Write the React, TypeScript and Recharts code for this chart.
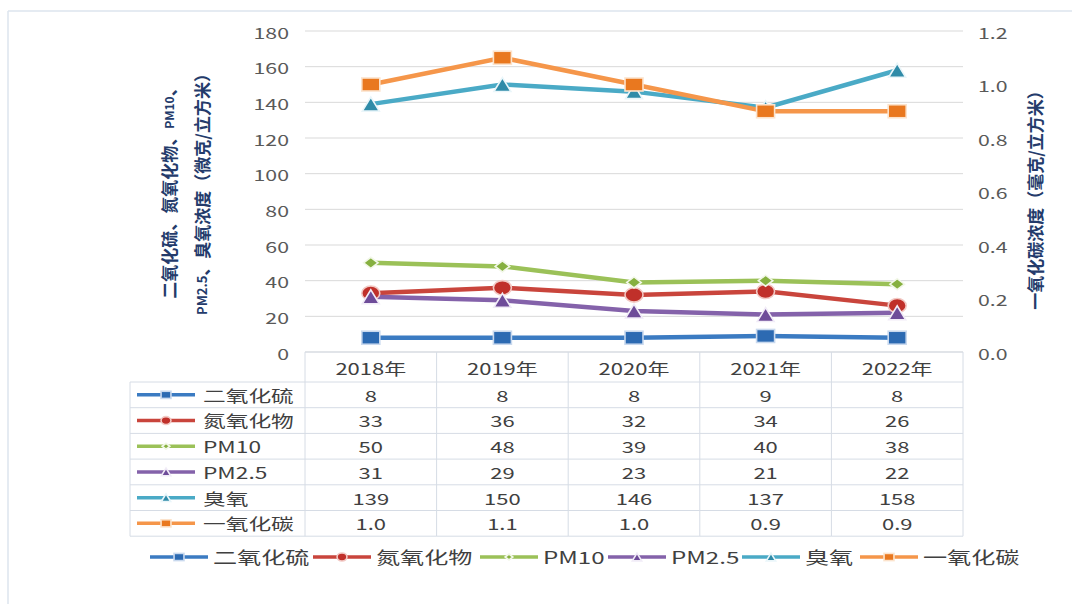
import React from 'react';
import { LineChart, Line, XAxis, YAxis, CartesianGrid, Customized } from 'recharts';

const years = ['2018年', '2019年', '2020年', '2021年', '2022年'];
const so2 = [8, 8, 8, 9, 8];
const nox = [33, 36, 32, 34, 26];
const pm10 = [50, 48, 39, 40, 38];
const pm25 = [31, 29, 23, 21, 22];
const o3 = [139, 150, 146, 137, 158];
const co = [1.0, 1.1, 1.0, 0.9, 0.9];
const leftTicks = [0, 20, 40, 60, 80, 100, 120, 140, 160, 180];
const rightTicks = [0, 0.2, 0.4, 0.6, 0.8, 1.0, 1.2];

type Shape = 'square' | 'circle' | 'diamond' | 'triangle';
interface Series {
  key: string;
  name: string;
  values: number[];
  color: string;
  fill: string;
  edge: string;
  shape: Shape;
  axis: 'left' | 'right';
  digits: number;
}

const series: Series[] = [
  { key: 'so2', name: '二氧化硫', values: so2, color: '#3B7BC2', fill: '#2C6AB2', edge: '#C9D9EE', shape: 'square', axis: 'left', digits: 0 },
  { key: 'nox', name: '氮氧化物', values: nox, color: '#C9453C', fill: '#C0302A', edge: '#F2C9C4', shape: 'circle', axis: 'left', digits: 0 },
  { key: 'pm10', name: 'PM10', values: pm10, color: '#9BC158', fill: '#86B040', edge: '#F2F7E8', shape: 'diamond', axis: 'left', digits: 0 },
  { key: 'pm25', name: 'PM2.5', values: pm25, color: '#8462AA', fill: '#6E4C99', edge: '#F1ECF7', shape: 'triangle', axis: 'left', digits: 0 },
  { key: 'o3', name: '臭氧', values: o3, color: '#4AAAC6', fill: '#2F8BA8', edge: '#EAF6FA', shape: 'triangle', axis: 'left', digits: 0 },
  { key: 'co', name: '一氧化碳', values: co, color: '#F5964A', fill: '#E9781F', edge: '#FCE3CC', shape: 'square', axis: 'right', digits: 1 },
];

const data = years.map((y, i) => {
  const row: Record<string, number | string> = { year: y };
  series.forEach((s) => {
    row[s.key] = s.values[i];
  });
  return row;
});

// layout constants
const W = 1072;
const H = 604;
const PLOT_L = 305;
const PLOT_R = 963;
const PLOT_T = 31;
const PLOT_B = 352;
const AXIS_W = 60;
const COL_W = (PLOT_R - PLOT_L) / years.length;
const TABLE_L = 130;
const HEADER_B = 382;
const ROW_H = 25.7;
const SX = 1.42;
const FONT = "'Noto Sans CJK SC', 'Noto Sans', sans-serif";
const LINE_CLR = '#D6DCE5';
const TEXT_CLR = '#404040';
const TICK_CLR = '#595959';
const TITLE_CLR = '#243B6B';

const STxt = ({ x, y, anchor = 'middle', size = 16, fill = TEXT_CLR, children }: any) => (
  <text
    transform={`translate(${x} ${y}) scale(${SX} 1)`}
    textAnchor={anchor}
    dominantBaseline="central"
    fontSize={size}
    fill={fill}
    fontFamily={FONT}
  >
    {children}
  </text>
);

const Marker = ({ cx, cy, shape, fill, edge, scale = 1 }: any) => {
  const w = 9 * scale;
  const h = 6.5 * scale;
  const sw = 1.6;
  if (shape === 'square') {
    return <rect x={cx - w} y={cy - h} width={w * 2} height={h * 2} fill={fill} stroke={edge} strokeWidth={sw} />;
  }
  if (shape === 'circle') {
    return <ellipse cx={cx} cy={cy} rx={w * 1.0} ry={h * 1.1} fill={fill} stroke={edge} strokeWidth={sw} />;
  }
  if (shape === 'diamond') {
    const dw = 8.5 * scale;
    const dh = 6.5 * scale;
    return (
      <polygon
        points={`${cx - dw},${cy} ${cx},${cy - dh} ${cx + dw},${cy} ${cx},${cy + dh}`}
        fill={fill}
        stroke={edge}
        strokeWidth={sw}
      />
    );
  }
  const tw = 8.5 * scale;
  const th = 7 * scale;
  return (
    <polygon
      points={`${cx - tw},${cy + th} ${cx},${cy - th} ${cx + tw},${cy + th}`}
      fill={fill}
      stroke={edge}
      strokeWidth={sw}
    />
  );
};

const LegendIcon = ({ x, y, s }: { x: number; y: number; s: Series }) => (
  <g>
    <line x1={x} y1={y} x2={x + 58} y2={y} stroke={s.color} strokeWidth={3.5} />
    <Marker cx={x + 29} cy={y} shape={s.shape} fill={s.fill} edge={s.edge} scale={s.shape === 'diamond' ? 0.45 : 0.55} />
  </g>
);

const rowY = (k: number) => HEADER_B + ROW_H * k;

const TableColumn = (props: any) => {
  const { x, payload } = props;
  const idx: number = payload && typeof payload.index === 'number' ? payload.index : props.index;
  const left = x - COL_W / 2;
  const right = x + COL_W / 2;
  const bottom = rowY(series.length);
  const hStart = idx === 0 ? TABLE_L : left;
  return (
    <g>
      <line x1={left} y1={PLOT_B} x2={right} y2={PLOT_B} stroke={LINE_CLR} strokeWidth={1} />
      {Array.from({ length: series.length + 1 }).map((_, k) => (
        <line key={'h' + k} x1={hStart} y1={rowY(k)} x2={right} y2={rowY(k)} stroke={LINE_CLR} strokeWidth={1} />
      ))}
      <line x1={left} y1={PLOT_B} x2={left} y2={bottom} stroke={LINE_CLR} strokeWidth={1} />
      {idx === years.length - 1 && (
        <line x1={right} y1={PLOT_B} x2={right} y2={bottom} stroke={LINE_CLR} strokeWidth={1} />
      )}
      {idx === 0 && <line x1={TABLE_L} y1={HEADER_B} x2={TABLE_L} y2={bottom} stroke={LINE_CLR} strokeWidth={1} />}
      <STxt x={x} y={(PLOT_B + HEADER_B) / 2 + 1} size={15.5}>
        {payload.value}
      </STxt>
      {series.map((s, k) => (
        <STxt key={s.key} x={x} y={rowY(k) + ROW_H / 2} size={15.5}>
          {s.values[idx].toFixed(s.digits)}
        </STxt>
      ))}
      {idx === 0 &&
        series.map((s, k) => (
          <g key={'lbl' + s.key}>
            <LegendIcon x={137} y={rowY(k) + ROW_H / 2} s={s} />
            <STxt x={203} y={rowY(k) + ROW_H / 2} anchor="start" size={16}>
              {s.name}
            </STxt>
          </g>
        ))}
    </g>
  );
};

const LeftTick = (props: any) => {
  const { y, payload } = props;
  return (
    <STxt x={289} y={y + 1} anchor="end" size={15} fill={TICK_CLR}>
      {payload.value}
    </STxt>
  );
};

const RightTick = (props: any) => {
  const { y, payload } = props;
  return (
    <STxt x={978} y={y + 1} anchor="start" size={15} fill={TICK_CLR}>
      {Number(payload.value).toFixed(1)}
    </STxt>
  );
};

const legendX = [150, 313, 480, 608, 742, 860];

const Decorations = () => (
  <g>
    <line x1={8} y1={11} x2={W} y2={11} stroke="#DDE4EE" strokeWidth={1.5} />
    <line x1={8} y1={11} x2={8} y2={H} stroke="#DDE4EE" strokeWidth={1.5} />
    <text
      transform="translate(168 189) rotate(-90)"
      textAnchor="middle"
      dominantBaseline="central"
      fontSize={17}
      fontWeight="bold"
      fill={TITLE_CLR}
      fontFamily={FONT}
    >
      二氧化硫、氮氧化物、<tspan fontSize={12}>PM10</tspan>、
    </text>
    <text
      transform="translate(201 190) rotate(-90)"
      textAnchor="middle"
      dominantBaseline="central"
      fontSize={17}
      fontWeight="bold"
      fill={TITLE_CLR}
      fontFamily={FONT}
    >
      <tspan fontSize={13}>PM2.5</tspan>、臭氧浓度（微克/立方米）
    </text>
    <text
      transform="translate(1034 196) rotate(-90)"
      textAnchor="middle"
      dominantBaseline="central"
      fontSize={17}
      fontWeight="bold"
      fill={TITLE_CLR}
      fontFamily={FONT}
    >
      一氧化碳浓度（毫克/立方米）
    </text>
    {series.map((s, i) => (
      <g key={'leg' + s.key}>
        <LegendIcon x={legendX[i]} y={557} s={s} />
        <STxt x={legendX[i] + 63} y={557} anchor="start" size={17}>
          {s.name}
        </STxt>
      </g>
    ))}
  </g>
);

export default function App() {
  return (
    <div style={{ position: 'absolute', left: 0, top: 0, width: W, height: H, background: '#fff' }}>
      <LineChart
        width={W}
        height={H}
        data={data}
        margin={{ top: PLOT_T, right: W - PLOT_R - AXIS_W, bottom: H - PLOT_B - 200, left: PLOT_L - AXIS_W }}
      >
        <CartesianGrid yAxisId="left" vertical={false} stroke="#D9D9D9" strokeWidth={1} />
        <XAxis
          dataKey="year"
          height={200}
          axisLine={false}
          tickLine={false}
          interval={0}
          padding={{ left: COL_W / 2, right: COL_W / 2 }}
          tick={<TableColumn />}
        />
        <YAxis
          yAxisId="left"
          orientation="left"
          width={AXIS_W}
          domain={[0, 180]}
          ticks={leftTicks}
          axisLine={false}
          tickLine={false}
          tick={<LeftTick />}
        />
        <YAxis
          yAxisId="right"
          orientation="right"
          width={AXIS_W}
          domain={[0, 1.2]}
          ticks={rightTicks}
          axisLine={false}
          tickLine={false}
          tick={<RightTick />}
        />
        {series.map((s) => (
          <Line
            key={s.key}
            yAxisId={s.axis}
            dataKey={s.key}
            name={s.name}
            stroke={s.color}
            strokeWidth={4.5}
            isAnimationActive={false}
            activeDot={false}
            dot={(p: any) => (
              <Marker key={s.key + p.index} cx={p.cx} cy={p.cy} shape={s.shape} fill={s.fill} edge={s.edge} scale={s.shape === 'diamond' ? 0.85 : 1} />
            )}
          />
        ))}
        <Customized component={<Decorations />} />
      </LineChart>
    </div>
  );
}
